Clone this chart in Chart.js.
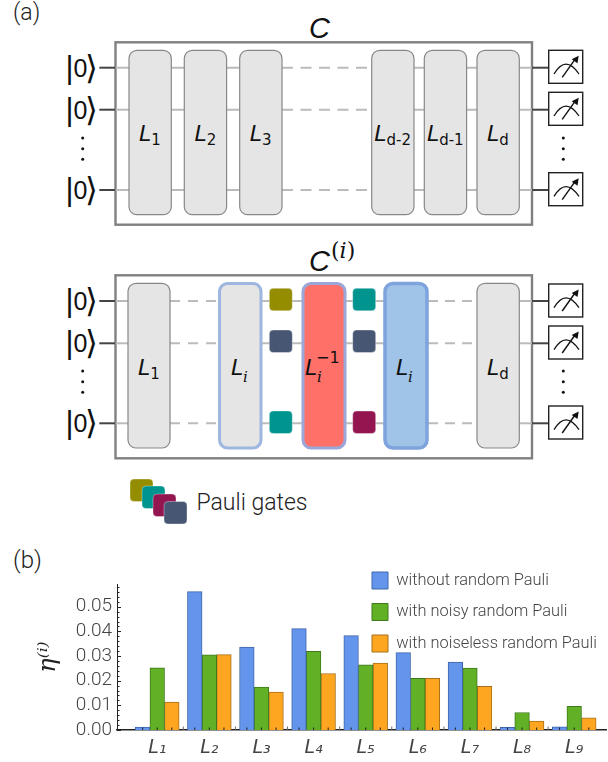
<!DOCTYPE html>
<html>
<head>
<meta charset="utf-8">
<title>Random Pauli circuit</title>
<script src="https://cdn.jsdelivr.net/npm/chart.js@4"></script>
<style>
    html, body { margin: 0; padding: 0; background: #fff; overflow: hidden; }
    #diagram { position: absolute; left: 0; top: 0; }
    #chartBox { position: absolute; left: 0; top: 560px; width: 608px; height: 202px; }
    #diagram text { font-family: "DejaVu Sans", sans-serif; fill: #111; }
    #diagram .plain { font-family: Roboto, "Liberation Sans", sans-serif; font-weight: 300; fill: #222; }
</style>
</head>
<body>
<svg id="diagram" width="608" height="600" xmlns="http://www.w3.org/2000/svg"></svg>
<div id="chartBox"><canvas id="chart1" width="608" height="202"></canvas></div>
<script>
// bar chart values
const categories = ['L₁', 'L₂', 'L₃', 'L₄', 'L₅', 'L₆', 'L₇', 'L₈', 'L₉'];
const withoutPauli = [0.0012, 0.0561, 0.0336, 0.0411, 0.0383, 0.0314, 0.0275, 0.0011, 0.0013];
const noisyPauli = [0.0252, 0.0305, 0.0174, 0.0319, 0.0264, 0.0210, 0.0251, 0.0071, 0.0096];
const noiselessPauli = [0.0113, 0.0306, 0.0154, 0.0229, 0.0271, 0.0210, 0.0177, 0.0036, 0.0049];

const OLIVE = '#948d00', TEAL = '#00948f', MAROON = '#931650', SLATE = '#475672';

// ---- panel (a): plain svg, the circuit is not chart data ----
let svg = '';

function wire(x1, x2, y, color, width, dash) {
    svg += `<line x1="${x1}" x2="${x2}" y1="${y}" y2="${y}" stroke="${color}" stroke-width="${width}"` +
        (dash ? ` stroke-dasharray="${dash}"` : '') + '/>';
}

function box(x1, y1, x2, y2, fill, stroke, width, radius) {
    svg += `<rect x="${x1}" y="${y1}" width="${x2 - x1}" height="${y2 - y1}" rx="${radius}" fill="${fill}" stroke="${stroke}" stroke-width="${width}"/>`;
}

function layerLabel(cx, y, sub) {
    svg += `<text x="${cx}" y="${y}" text-anchor="middle" font-size="22"><tspan font-style="italic">L</tspan>` +
        `<tspan dy="4" font-size="15">${sub}</tspan></text>`;
}

function iLabel(cx, y, sup) {
    svg += `<text x="${cx - 10}" y="${y}" font-size="22" font-style="italic">L</text>`;
    svg += `<text x="${cx + 2}" y="${y + 7}" font-size="15" font-style="italic" style="font-family:'DejaVu Serif'">i</text>`;
    if (sup) svg += `<text x="${cx + 1}" y="${y - 12}" font-size="16">${sup}</text>`;
}

function meter(x, y) {
    box(x, y, x + 34, y + 33, '#fff', '#222', 1.4, 0);
    svg += `<path d="M5.3 23.7 Q17 4 30.3 23.7" transform="translate(${x} ${y})" fill="none" stroke="#111" stroke-width="1.3"/>`;
    svg += `<path d="M13.5 27 L27 8" transform="translate(${x} ${y})" fill="none" stroke="#111" stroke-width="1.4"/>`;
    svg += `<path d="M30 5.5 L28.8 13 L23 9 Z" transform="translate(${x} ${y})" fill="#111"/>`;
}

function dots(x, y) {
    [0, 10.7, 21.3].forEach(d => { svg += `<circle cx="${x}" cy="${y + d}" r="1.5" fill="#111"/>`; });
}

function kets(ys, dotsY) {
    ys.forEach(y => {
        svg += `<text x="65.5" y="${y + 10}" font-size="31" style="font-family:'Liberation Sans'">|</text>`;
        svg += `<text x="73.5" y="${y + 9}" font-size="25" style="font-family:'Liberation Sans'">0</text>`;
        svg += `<text x="85" y="${y + 11}" font-size="33">⟩</text>`;
        wire(99.3, 115.5, y, '#444', 2);
        wire(115.5, 130, y, '#bbb', 2);
    });
    dots(82.7, dotsY);
    dots(563.3, dotsY);
}

function gate(x1, y1, color) {
    box(x1, y1, x1 + 23, y1 + 22.5, color, 'rgba(255,255,255,0.35)', 1, 4);
}

// top circuit
const topWires = [67.7, 109.7, 190];
box(115.5, 42.3, 532, 224.7, '#fff', '#808080', 2.4, 0);
topWires.forEach(y => {
    wire(130, 282, y, '#bbb', 2);
    wire(282, 372, y, '#bbb', 2, '11 7.5');
    wire(372, 532, y, '#bbb', 2);
    wire(532, 549, y, '#444', 2);
});
kets(topWires, 138);
[[129, '1'], [184.3, '2'], [239.7, '3'], [371.7, 'd-2'], [424.3, 'd-1'], [477, 'd']].forEach(l => {
    box(l[0], 50.3, l[0] + 42.3, 214.7, '#e5e5e5', '#888', 1.2, 8);
    layerLabel(l[0] + 21, 141, l[1]);
});
[50.3, 92.3, 172.7].forEach(y => meter(548.7, y));
svg += '<text x="309" y="38" font-size="29" font-style="italic" style="font-family:\'Liberation Sans\'">C</text>';

// bottom circuit
const lowWires = [301, 343.3, 423.3];
box(115.5, 275.3, 532, 458.3, '#fff', '#808080', 2.4, 0);
lowWires.forEach(y => {
    wire(170, 218, y, '#bbb', 2, '10 8');
    wire(262, 384, y, '#bbb', 2);
    wire(428, 477, y, '#bbb', 2, '10 7');
    wire(519, 532, y, '#bbb', 2);
    wire(532, 549, y, '#444', 2);
});
kets(lowWires, 371);
box(128, 283.3, 170, 448, '#e5e5e5', '#888', 1.2, 8);
layerLabel(149, 375, '1');
box(219.5, 283.5, 261, 448, '#e5e5e5', '#9db7e0', 3, 8);
iLabel(241, 375);
box(303, 283.5, 345, 448, '#ff7068', '#9aa7d8', 3, 8);
iLabel(315, 375, '−1');
box(385, 283.5, 427, 448, '#9fc4e8', '#7fa3dc', 3.5, 8);
iLabel(406, 375);
box(477, 283.3, 519.3, 448, '#e5e5e5', '#888', 1.2, 8);
layerLabel(498, 375, 'd');
gate(269.3, 288.3, OLIVE);
gate(269.3, 330, SLATE);
gate(269.3, 411, TEAL);
gate(352.7, 288.3, TEAL);
gate(352.7, 330, SLATE);
gate(352.7, 411, MAROON);
[284, 326, 406].forEach(y => meter(548.7, y));
svg += '<text x="309" y="271" font-size="29" font-style="italic" style="font-family:\'Liberation Sans\'">C</text>';
svg += '<text x="331" y="258" font-size="22" style="font-family:\'DejaVu Serif\'">(<tspan font-style="italic">i</tspan>)</text>';

// pauli key
gate(130, 479, OLIVE);
gate(142, 486, TEAL);
gate(153, 494, MAROON);
gate(164, 501.5, SLATE);
svg += '<text class="plain" x="196.5" y="510" font-size="23">Pauli gates</text>';
svg += '<text class="plain" x="13" y="20" font-size="23">(a)</text>';
svg += '<text class="plain" x="13" y="568" font-size="24">(b)</text>';
document.getElementById('diagram').innerHTML = svg;

// ---- panel (b) ----
function toPoints(values) {
    return values.map((v, i) => ({ x: i + 1, y: v }));
}

// mathematica style inward ticks, taken from the scales
const inwardTicks = {
    id: 'inwardTicks',
    beforeDraw(chart) {
        // legend sits inside the plot, top right
        chart.legend.left = 357.5;
        chart.legend.top = -2.5;
    },
    afterDatasetsDraw(chart) {
        const ctx = chart.ctx, xs = chart.scales.x, ys = chart.scales.y;
        ctx.save();
        ctx.strokeStyle = '#222';
        ctx.lineWidth = 1;
        for (let v = 0; v <= ys.max; v += 0.002) {
            const y = Math.round(ys.getPixelForValue(v)) + 0.5;
            const major = Math.round(v * 1000) % 10 === 0;
            ctx.beginPath();
            ctx.moveTo(xs.left, y);
            ctx.lineTo(xs.left + (major ? 4 : 2.5), y);
            ctx.stroke();
        }
        chart.data.datasets.forEach((ds, d) => {
            chart.getDatasetMeta(d).data.forEach(bar => {
                ctx.beginPath();
                ctx.moveTo(bar.x, ys.bottom);
                ctx.lineTo(bar.x, ys.bottom - 2.5);
                ctx.stroke();
            });
        });
        ctx.strokeStyle = '#666';
        for (let c = 1; c < categories.length; c++) {
            const x = xs.getPixelForValue(c + 0.5);
            ctx.beginPath();
            ctx.moveTo(x, ys.bottom);
            ctx.lineTo(x, ys.bottom - 3.5);
            ctx.stroke();
        }
        ctx.restore();
    }
};

const ctx = document.getElementById('chart1');
new Chart(ctx, {
    type: 'bar',
    data: {
        datasets: [{
            label: 'without random Pauli',
            data: toPoints(withoutPauli),
            backgroundColor: '#6495ed',
            borderColor: '#3f66a8'
        }, {
            label: 'with noisy random Pauli',
            data: toPoints(noisyPauli),
            backgroundColor: '#62b026',
            borderColor: '#3f7a1c'
        }, {
            label: 'with noiseless random Pauli',
            data: toPoints(noiselessPauli),
            backgroundColor: '#ffa620',
            borderColor: '#a8701a'
        }]
    },
    plugins: [inwardTicks],
    options: {
        responsive: false,
        animation: false,
        layout: { padding: { top: 24.3, right: 2, left: 0, bottom: 0 } },
        datasets: { bar: { borderWidth: 1, barThickness: 14.6 } },
        scales: {
            x: {
                type: 'linear',
                offset: false,
                min: 0.228,
                max: 9.61,
                afterBuildTicks: (scale) => { scale.ticks = categories.map((c, i) => ({ value: i + 1 })); },
                afterFit: (scale) => { scale.height = 32; },
                grid: { display: false, drawTicks: false, offset: false },
                border: { display: true, color: '#222', width: 1.4 },
                ticks: {
                    callback: (v) => categories[v - 1],
                    autoSkip: false,
                    maxRotation: 0,
                    padding: 7,
                    color: '#444',
                    font: { family: '"DejaVu Sans"', size: 19, style: 'italic' }
                }
            },
            y: {
                min: 0,
                max: 0.0591,
                afterFit: (scale) => { scale.width = 117; },
                grid: { display: false, drawTicks: false },
                border: { display: true, color: '#222', width: 1 },
                title: {
                    display: true,
                    text: 'η⁽ⁱ⁾',
                    color: '#222',
                    padding: { top: 34, bottom: 0 },
                    font: { family: '"DejaVu Serif"', size: 24, style: 'italic' }
                },
                ticks: {
                    stepSize: 0.01,
                    includeBounds: false,
                    padding: 5,
                    color: '#444',
                    callback: (v) => v.toFixed(2),
                    font: { family: 'Roboto, "Liberation Sans"', size: 19, weight: 300 }
                }
            }
        },
        plugins: {
            tooltip: { enabled: false },
            legend: {
                position: 'chartArea',
                align: 'start',
                labels: {
                    boxWidth: 16,
                    boxHeight: 17,
                    padding: 14.5,
                    color: '#444',
                    font: { family: 'Roboto, "Liberation Sans"', size: 16.4, weight: 300 }
                }
            }
        }
    }
});
</script>
</body>
</html>
